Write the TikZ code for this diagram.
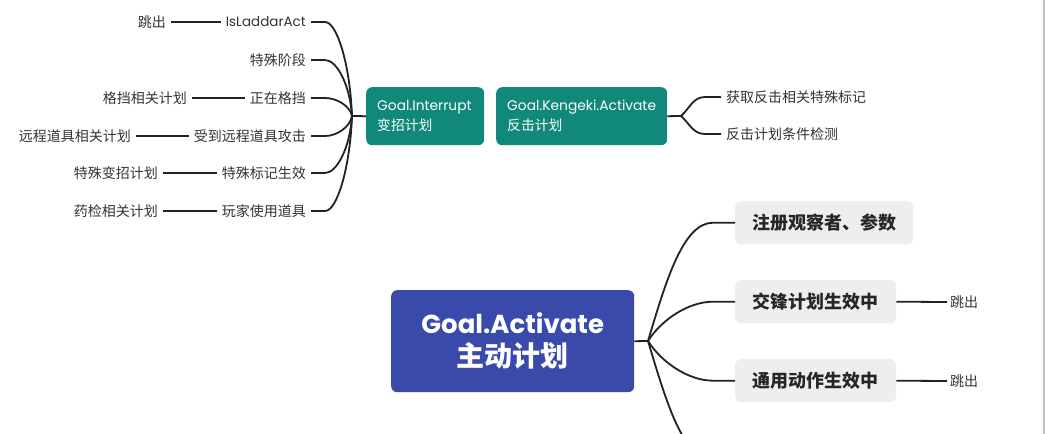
\documentclass[tikz,border=0pt]{standalone}
\usepackage{fontspec}
\setmainfont{Poppins}
\newfontfamily\cjk{Noto Sans CJK SC}
\usetikzlibrary{calc}
\definecolor{tealbg}{HTML}{10897A}
\definecolor{bluebg}{HTML}{3A4AAB}
\definecolor{graybg}{HTML}{EEEEEE}
\definecolor{txt}{HTML}{333333}
\definecolor{wire}{HTML}{222222}
\begin{document}
\begin{tikzpicture}[x=1pt,y=-1pt,
  leaf/.style={text=txt, font=\cjk\fontsize{14}{16}\selectfont, inner xsep=5pt, inner ysep=2pt},
  tealbox/.style={fill=tealbg, rounded corners=6pt, text=white, align=left, anchor=north west,
    minimum height=58pt, inner xsep=11pt, font=\fontsize{13.8}{20}\selectfont},
  graybox/.style={fill=graybg, rounded corners=6pt, text=black!85, anchor=north west,
    minimum height=43pt, font=\cjk\bfseries\fontsize{18}{20}\selectfont},
  conn/.style={draw=wire, line width=1.8pt}
]
\useasboundingbox (0,0) rectangle (1045,434);
\clip (0,0) rectangle (1045,434);
\fill[white] (0,0) rectangle (1045,434);

% ---- Goal.Interrupt ----
\node[tealbox, text width=96pt] (intr) at (366,87) {\hbox{Goal.Interrupt}\\\hbox{\cjk 变招计划}};
\coordinate (P) at (352,116);

\node[leaf, anchor=east] (l1) at (311,22) {\fontspec{Poppins}\fontsize{13.5}{16}\selectfont IsLaddarAct};
\node[leaf, anchor=east] (l2) at (311,60) {特殊阶段};
\node[leaf, anchor=east] (l3) at (311,98) {正在格挡};
\node[leaf, anchor=east] (l4) at (311,136) {受到远程道具攻击};
\node[leaf, anchor=east] (l5) at (311,173) {特殊标记生效};
\node[leaf, anchor=east] (l6) at (311,211) {玩家使用道具};

\node[leaf, anchor=east] (g1) at (171,22) {跳出};
\node[leaf, anchor=east] (g3) at (192,98) {格挡相关计划};
\node[leaf, anchor=east] (g4) at (136,136) {远程道具相关计划};
\node[leaf, anchor=east] (g5) at (163,173) {特殊变招计划};
\node[leaf, anchor=east] (g6) at (163,211) {药检相关计划};

\foreach \n/\yy in {l1/22,l2/60,l3/98,l4/136,l5/173,l6/211}{
  \draw[conn] (\n.east) -- ++(14,0) .. controls +(12,0) and +(-2,{(\yy-116)*0.55}) .. (P);
}
\draw[conn] (P) -- (intr.west);
\draw[conn] (g1.east) -- (l1.west);
\draw[conn] (g3.east) -- (l3.west);
\draw[conn] (g4.east) -- (l4.west);
\draw[conn] (g5.east) -- (l5.west);
\draw[conn] (g6.east) -- (l6.west);

% ---- Goal.Kengeki.Activate ----
\node[tealbox, text width=149pt] (ken) at (496,87) {\hbox{Goal.Kengeki.Activate}\\\hbox{\cjk 反击计划}};
\coordinate (Q) at (681,116);
\node[leaf, anchor=west] (k1) at (721,97) {获取反击相关特殊标记};
\node[leaf, anchor=west] (k2) at (721,134) {反击计划条件检测};
\draw[conn] (ken.east) -- (Q);
\draw[conn] (Q) .. controls +(9,-8) and +(-12,0) .. ($(k1.west)+(-16,0)$) -- (k1.west);
\draw[conn] (Q) .. controls +(9,8) and +(-12,0) .. ($(k2.west)+(-16,0)$) -- (k2.west);

% ---- Goal.Activate ----
\node[fill=bluebg, rounded corners=6pt, text=white, align=center, anchor=north west,
  minimum width=243pt, minimum height=102pt, font=\bfseries\fontsize{26}{33}\selectfont]
  (main) at (391,290) {Goal.Activate\\{\cjk\bfseries\fontsize{28}{33}\selectfont 主动计划}};
\coordinate (R) at (648,341);
\draw[conn] (main.east) -- (R);

\node[graybox, minimum width=178pt] (b1) at (735,201) {注册观察者、参数};
\node[graybox, minimum width=161pt] (b2) at (735,280) {交锋计划生效中};
\node[graybox, minimum width=161pt] (b3) at (735,359) {通用动作生效中};
\coordinate (b4) at (735,460);

\draw[conn] (R) .. controls +(18,-60) and +(-30,0) .. ($(b1.west)+(-22,0)$) -- (b1.west);
\draw[conn] (R) .. controls +(14,-22) and +(-24,0) .. ($(b2.west)+(-22,0)$) -- (b2.west);
\draw[conn] (R) .. controls +(14,22) and +(-24,0) .. ($(b3.west)+(-22,0)$) -- (b3.west);
\draw[conn] (R) .. controls +(18,60) and +(-30,0) .. ($(b4)+(-22,0)$) -- (b4);

\node[leaf, anchor=west, inner xsep=3pt] (j2) at (947,302) {跳出};
\node[leaf, anchor=west, inner xsep=3pt] (j3) at (947,381) {跳出};
\draw[conn] (b2.east) -- (j2.west);
\draw[conn] (b3.east) -- (j3.west);

% right border
\draw[black!25, line width=1.5pt] (1044.2,0) -- (1044.2,434);
\end{tikzpicture}
\end{document}
